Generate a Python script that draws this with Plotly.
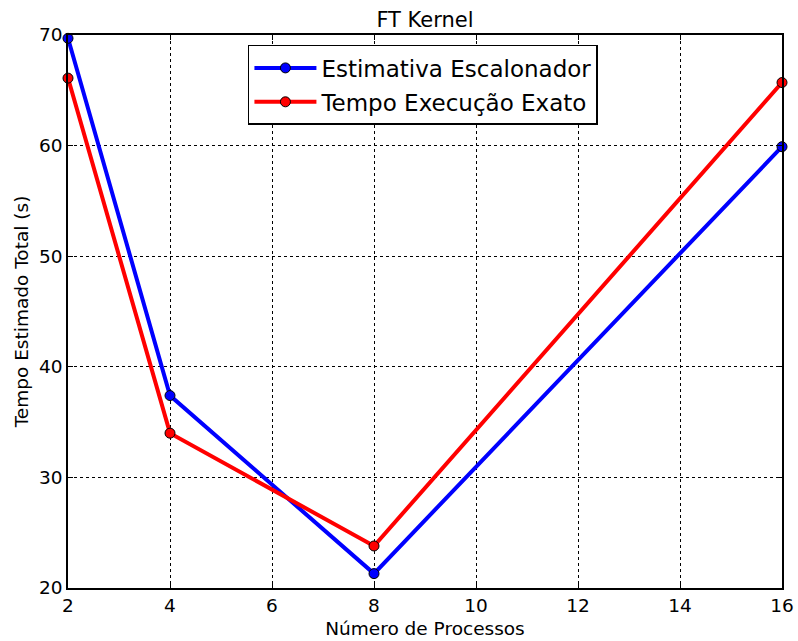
import plotly.graph_objects as go

# Número de processos e tempos (s)
processos = [2, 4, 8, 16]
estimativa_escalonador = [69.7, 37.4, 21.3, 59.9]
tempo_execucao_exato = [66.1, 34.0, 23.8, 65.7]

x_ticks = [2, 4, 6, 8, 10, 12, 14, 16]
y_ticks = [20, 30, 40, 50, 60, 70]

FONT = "DejaVu Sans"

fig = go.Figure()
fig.add_trace(go.Scatter(
    x=processos, y=estimativa_escalonador, mode="lines+markers",
    name="Estimativa Escalonador", legendgroup="a",
    line=dict(color="#0000ff", width=4),
    marker=dict(symbol="circle", size=10, color="#0000ff",
                line=dict(color="black", width=1)),
    cliponaxis=False,
))
fig.add_trace(go.Scatter(
    x=processos, y=tempo_execucao_exato, mode="lines+markers",
    name="Tempo Execução Exato", legendgroup="b",
    line=dict(color="#ff0000", width=4),
    marker=dict(symbol="circle", size=10, color="#ff0000",
                line=dict(color="black", width=1)),
    cliponaxis=False,
))

axis_common = dict(
    showline=True, linecolor="black", linewidth=1.5, mirror="ticks",
    ticks="inside", ticklen=5, tickwidth=1, tickcolor="black",
    showgrid=True, gridcolor="black", gridwidth=1, griddash="dot",
    zeroline=False, automargin=False,
    tickfont=dict(family=FONT, size=18.5, color="black"),
)

fig.update_layout(
    width=798, height=641,
    paper_bgcolor="white", plot_bgcolor="white",
    margin=dict(l=68, r=16, t=35, b=53, autoexpand=False),
    title=dict(text="FT Kernel", xref="paper", x=0.5, xanchor="center",
               yref="container", y=0.97, yanchor="middle",
               font=dict(family=FONT, size=21, color="black"),
               automargin=False),
    xaxis=dict(range=[2, 16], tickvals=x_ticks,
               title=dict(text="Número de Processos", standoff=7,
                          font=dict(family=FONT, size=18.5, color="black")),
               **axis_common),
    yaxis=dict(range=[20, 70], tickvals=y_ticks,
               title=dict(text="Tempo Estimado Total (s)", standoff=6,
                          font=dict(family=FONT, size=18.5, color="black")),
               **axis_common),
    legend=dict(x=0.252, y=0.982, xanchor="left", yanchor="top",
                bgcolor="white", bordercolor="black", borderwidth=1.5,
                font=dict(family=FONT, size=23, color="black"),
                itemwidth=62, tracegroupgap=1),
    showlegend=True,
)

fig.write_html("out.html")
